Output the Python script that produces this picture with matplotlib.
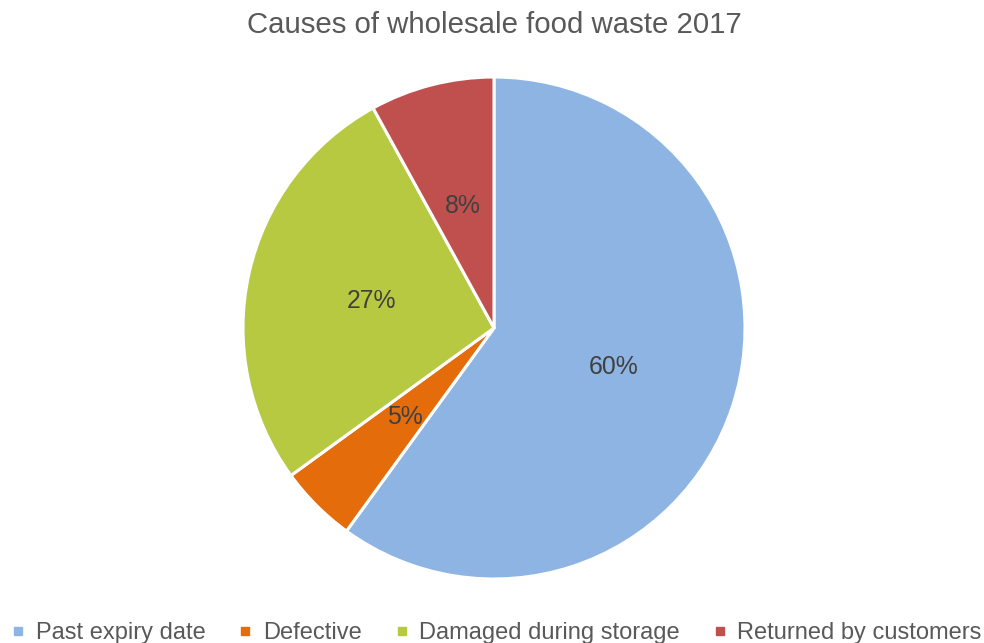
import matplotlib.pyplot as plt
from matplotlib.lines import Line2D

plt.rcParams["font.family"] = ["Liberation Sans", "DejaVu Sans"]

TITLE = "Causes of wholesale food waste 2017"
CAUSES = ["Past expiry date", "Defective", "Damaged during storage", "Returned by customers"]
SHARES = [60, 5, 27, 8]
COLORS = ["#8EB4E3", "#E46C0A", "#B7C941", "#C0504D"]

W, H = 984, 643
fig = plt.figure(figsize=(W / 100, H / 100), dpi=100)

# pie centred at (494, 328) px with radius 251 px
cx, cy, r = 494, 328, 251
ax = fig.add_axes([(cx - r) / W, (H - cy - r) / H, 2 * r / W, 2 * r / H])
wedges, texts, autotexts = ax.pie(
    SHARES,
    colors=COLORS,
    startangle=90,
    counterclock=False,
    autopct="%d%%",
    pctdistance=0.5,
    radius=1.0,
    wedgeprops=dict(edgecolor="white", linewidth=2.2),
    textprops=dict(color="#404040", fontsize=17.8),
)
ax.set_xlim(-1, 1)
ax.set_ylim(-1, 1)
ax.set_aspect("equal")
ax.axis("off")

fig.text(0.502, 1 - 25 / H, TITLE, ha="center", va="center", fontsize=21.2, color="#595959")

handles = [
    Line2D([], [], marker="s", linestyle="none", markersize=5.2, markerfacecolor=c, markeredgecolor=c)
    for c in COLORS
]
fig.legend(
    handles,
    CAUSES,
    loc="center",
    bbox_to_anchor=(496.5 / W, 1 - 633 / H),
    ncol=4,
    frameon=False,
    fontsize=17.0,
    labelcolor="#595959",
    handlelength=0.6,
    handletextpad=0.45,
    columnspacing=1.38,
    borderaxespad=0,
    borderpad=0,
)

fig.savefig("out.png", dpi=100)
